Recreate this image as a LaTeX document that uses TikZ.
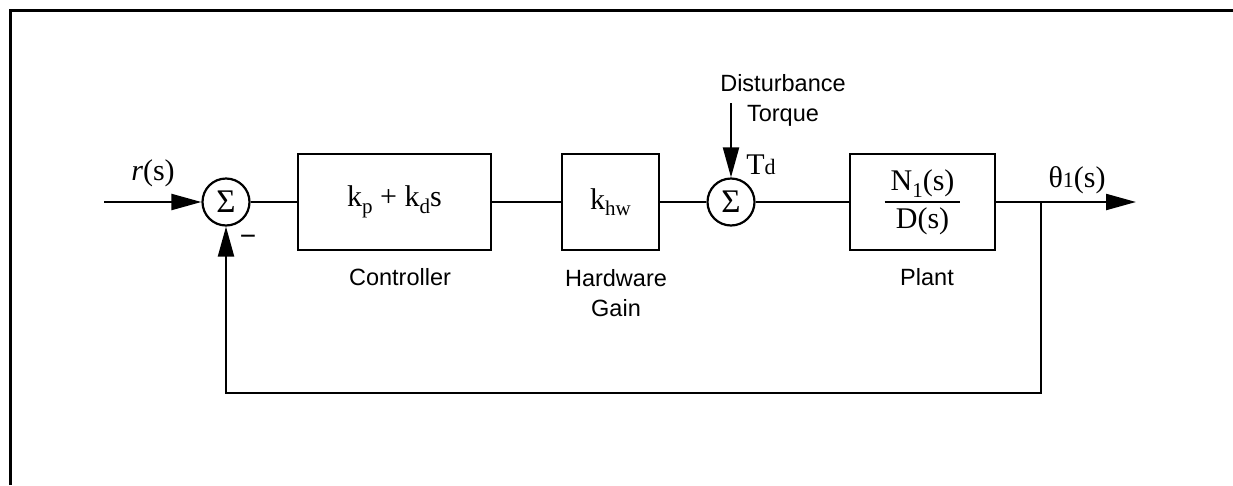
\documentclass[tikz,border=0pt]{standalone}
\usepackage{fontspec}
\setmainfont{Liberation Serif}
\setsansfont{Liberation Sans}
\usetikzlibrary{arrows.meta}
\newcommand{\sbs}[1]{\raisebox{-0.22em}{\fontsize{21}{21}\selectfont #1}}
\newcommand{\smf}[1]{{\fontsize{22}{22}\selectfont #1}}
\setlength{\arrayrulewidth}{1.6pt}
\begin{document}
\begin{tikzpicture}[x=1pt,y=-1pt,
  conn/.style={line width=2.2pt},
  arr/.style={conn,-{Triangle[length=30pt,width=16pt]}},
  blk/.style={draw,line width=2.2pt,minimum height=96pt,inner sep=0pt},
  sumnode/.style={draw,circle,line width=2.2pt,minimum size=47pt,inner sep=0pt,font=\fontsize{33}{33}\selectfont},
  lbl/.style={font=\sffamily\fontsize{23.5}{29.5}\selectfont,align=center,inner sep=0pt},
  mth/.style={font=\fontsize{30}{36}\selectfont}]
\useasboundingbox (0,0) rectangle (1233,485);
\draw[line width=2.6pt] (10.5,485) -- (10.5,10.5) -- (1233,10.5);

% blocks
\node[sumnode] (s1) at (226,202) {Σ};
\node[blk,mth,minimum width=193pt] (ctrl) at (394.5,202) {k\sbs{p} + k\sbs{d}s};
\node[blk,mth,minimum width=97pt] (hw) at (610.5,202) {k\sbs{hw}};
\node[sumnode] (s2) at (731,202) {Σ};
\node[blk,mth,minimum width=145pt] (plant) at (922.5,202)
  {\begin{tabular}{@{\hspace{6pt}}c@{\hspace{6pt}}}N\sbs{1}(s)\\\hline D(s)\end{tabular}};

% free ends
\coordinate (in) at (104,202);
\coordinate (dist) at (731,103);
\coordinate (br) at (1041,202);
\coordinate (out) at (1136,202);
\coordinate (fb) at (1041,393);

% connectors
\draw[arr] (in) -- (s1);
\draw[conn] (s1) -- (ctrl);
\draw[conn] (ctrl) -- (hw);
\draw[conn] (hw) -- (s2);
\draw[conn] (s2) -- (plant);
\draw[arr] (dist) -- (s2);
\draw[arr] (plant) -- (out);
\draw[arr] (br) -- (fb) -| (s1);

% labels
\node[mth] (rl) at (153,173) {\textit{r}(s)};
\node[font=\sffamily\fontsize{28}{28}\selectfont] (minus) at (248,240) {−};
\node[lbl] (dl) at (783,100.5) {Disturbance\\Torque};
\node[mth] (td) at (761,165) {T\smf{d}};
\node[lbl] (cl) at (400,277) {Controller};
\node[lbl] (hl) at (616,293) {Hardware\\Gain};
\node[lbl] (pl) at (927,277) {Plant};
\node[mth] (th) at (1077,180) {θ\smf{1}(s)};
\end{tikzpicture}
\end{document}
